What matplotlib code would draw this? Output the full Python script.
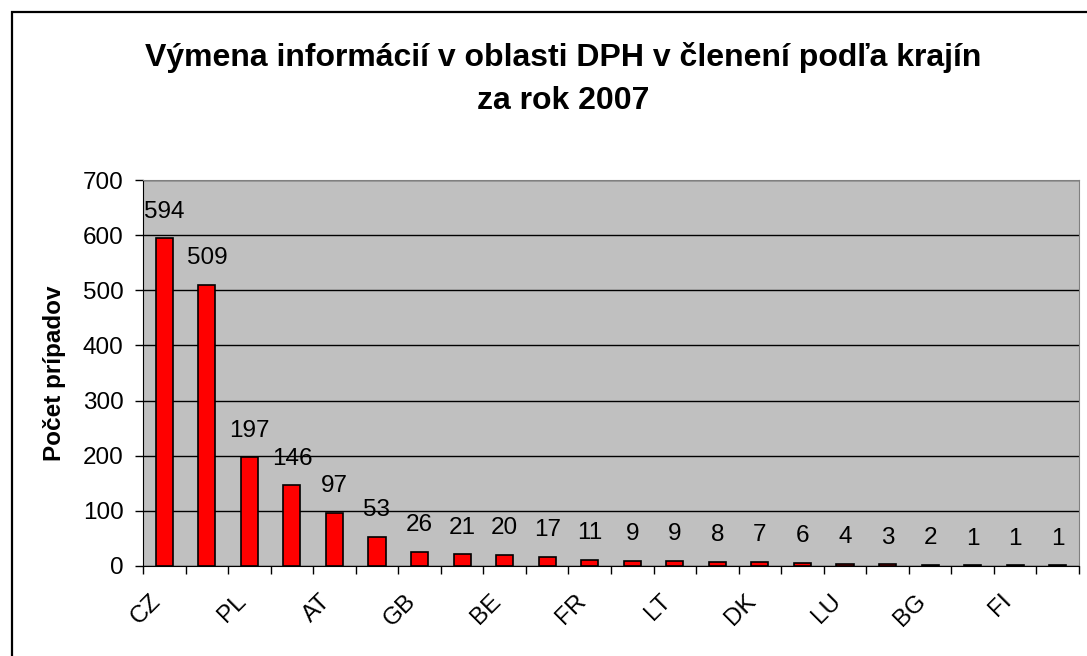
import numpy as np
import matplotlib
matplotlib.use('Agg')
import matplotlib.pyplot as plt
import matplotlib.transforms as mtransforms
from matplotlib.patches import Rectangle

# -----------------------
# DATA
# -----------------------
countries = ["CZ", "HU", "PL", "DE", "AT", "SI", "GB", "NL", "BE", "IT", "FR",
             "LV", "LT", "EE", "DK", "SE", "LU", "RO", "BG", "ES", "FI", "IE"]
cases = [594, 509, 197, 146, 97, 53, 26, 21, 20, 17, 11,
         9, 9, 8, 7, 6, 4, 3, 2, 1, 1, 1]
y_ticks = [0, 100, 200, 300, 400, 500, 600, 700]

title = "Výmena informácií v oblasti DPH v členení podľa krajín\nza rok 2007"
y_label = "Počet prípadov"

plt.rcParams['font.family'] = ['Liberation Sans', 'DejaVu Sans']

fig = plt.figure(figsize=(10.87, 6.56), dpi=100, facecolor="white")
ax = fig.add_axes([143 / 1087, 1 - 566 / 656, 936 / 1087, 386 / 656])
ax.set_facecolor("#C0C0C0")

x = np.arange(len(countries))
ax.bar(x, cases, width=0.4, color="#FF0000", edgecolor="black", linewidth=1.2, zorder=3)

for xi, v in zip(x, cases):
    ax.annotate(str(v), (xi, v), xytext=(0, 15), textcoords="offset points",
                ha="center", va="baseline", fontsize=17.5, zorder=4)

ax.set_xlim(-0.5, len(countries) - 0.5)
ax.set_ylim(0, 700)
ax.set_yticks(y_ticks)
ax.tick_params(axis="y", labelsize=17.5, length=6, width=1, direction="out", pad=8)
ax.yaxis.grid(True, color="black", linewidth=1, zorder=1)
ax.set_axisbelow(True)

# ticks on category borders, labels on every other category
ax.set_xticks(np.arange(-0.5, len(countries), 1.0))
ax.set_xticklabels([])
ax.tick_params(axis="x", which="major", length=6, width=1, direction="out")
ax.set_xticks(x[::2], minor=True)
ax.set_xticklabels(countries[::2], minor=True, rotation=45, ha="right", va="center",
                   rotation_mode="anchor", fontsize=17.5)
ax.tick_params(axis="x", which="minor", length=0, pad=23)
shift = mtransforms.ScaledTranslation(-7 / 100, 0, fig.dpi_scale_trans)
for lbl in ax.get_xticklabels(minor=True):
    lbl.set_transform(lbl.get_transform() + shift)

ax.spines["left"].set_color("black")
ax.spines["bottom"].set_color("black")
ax.spines["top"].set_color("#808080")
ax.spines["right"].set_color("#808080")

ax.set_ylabel(y_label, fontsize=17.5, fontweight="bold")
ax.yaxis.set_label_coords((66 - 143) / 936, 0.5)

fig.text(563 / 1087, 1 - 79 / 656, title, ha="center", va="center",
         fontsize=23, fontweight="bold", linespacing=1.55)

# outer chart border
fig.patches.append(Rectangle((12 / 1087, -0.1), 1.2, 0.1 + 1 - 12 / 656,
                             transform=fig.transFigure, fill=False,
                             edgecolor="black", linewidth=1.6))

fig.savefig("out.png", dpi=100)
